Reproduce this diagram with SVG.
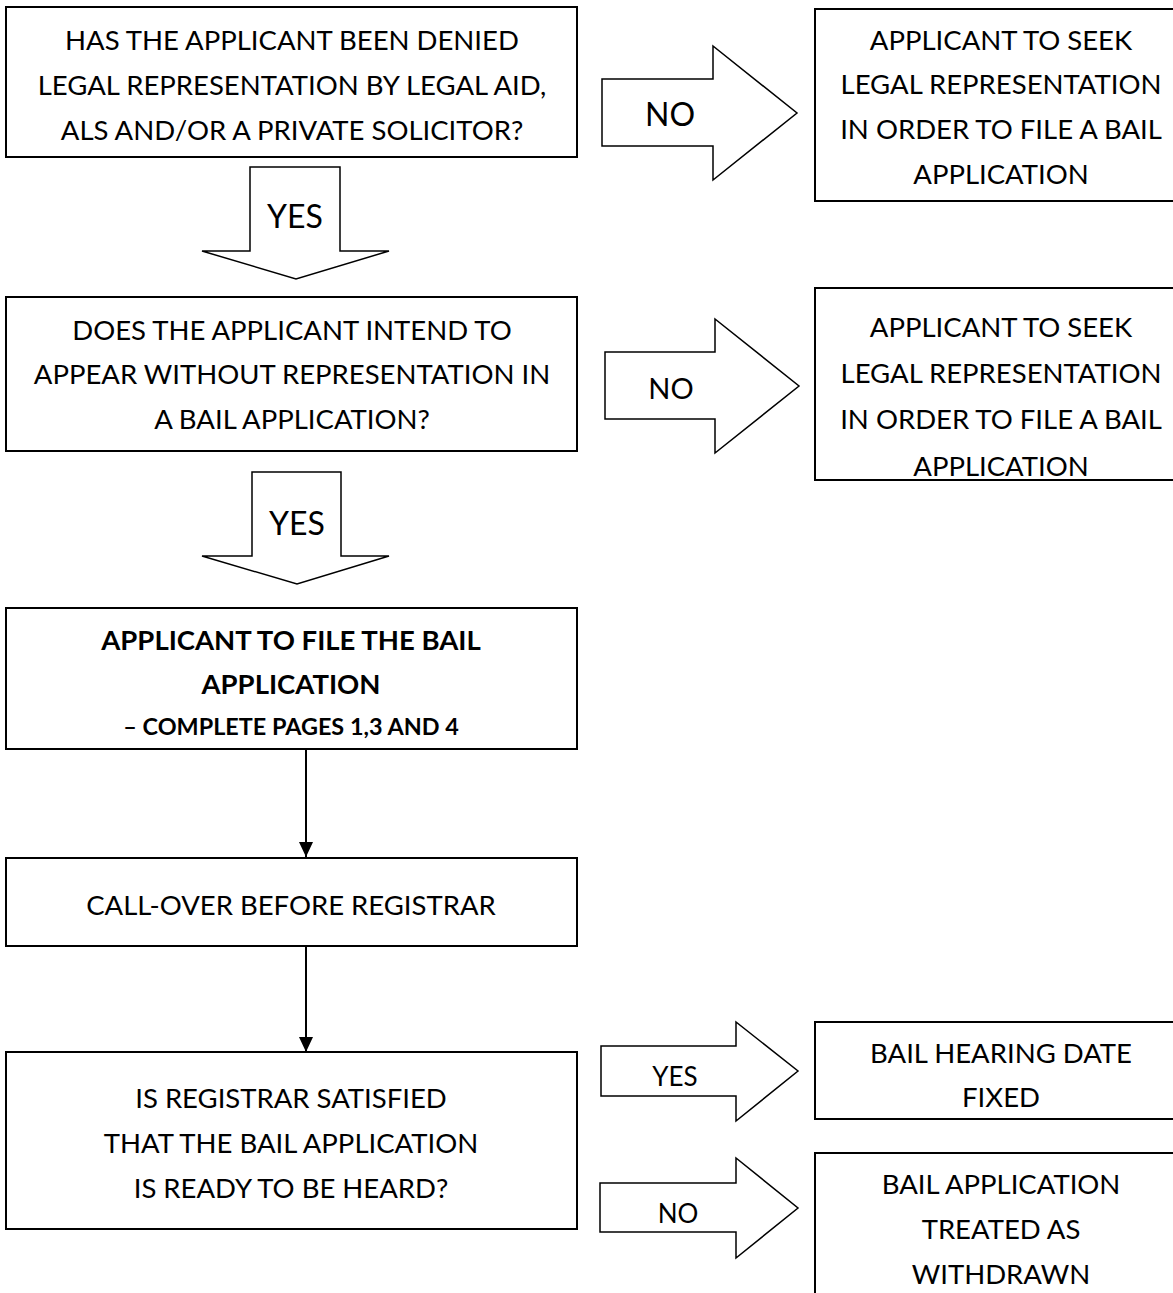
<svg xmlns="http://www.w3.org/2000/svg" width="1173" height="1293" viewBox="0 0 1173 1293">
<defs>
<style>
.box{fill:#fff;stroke:#000;stroke-width:2}
.arr{fill:#fff;stroke:#000;stroke-width:1.5;stroke-linejoin:miter}
.t{font-family:Lato,"Open Sans","Liberation Sans",sans-serif;font-size:27.5px;fill:#000;text-anchor:middle}
.b{font-weight:bold}
.s{font-size:23.4px}
.big{font-size:32px}
.mid{font-size:29px}
.sm{font-size:26px}
.con{stroke:#000;stroke-width:2;fill:none}
</style>
<marker id="ah" viewBox="0 0 14 15" refX="7" refY="15" markerWidth="14" markerHeight="15" markerUnits="userSpaceOnUse" orient="0">
<path d="M0,0 L14,0 L7,15 Z" fill="#000"/>
</marker>
</defs>
<rect width="1173" height="1293" fill="#fff"/>

<g id="q1">
<rect class="box" x="6" y="7" width="571" height="150"/>
<text class="t" x="292" y="50">HAS THE APPLICANT BEEN DENIED</text>
<text class="t" x="292" y="95">LEGAL REPRESENTATION BY LEGAL AID,</text>
<text class="t" x="292" y="140">ALS AND/OR A PRIVATE SOLICITOR?</text>
</g>

<g id="no1">
<polygon class="arr" points="602,79 713,79 713,46 797,113 713,180 713,146 602,146"/>
<text class="t big" x="670" y="126">NO</text>
</g>

<g id="r1">
<rect class="box" x="815" y="9" width="370" height="192"/>
<text class="t" x="1001" y="50">APPLICANT TO SEEK</text>
<text class="t" x="1001" y="94">LEGAL REPRESENTATION</text>
<text class="t" x="1001" y="139">IN ORDER TO FILE A BAIL</text>
<text class="t" x="1001" y="184">APPLICATION</text>
</g>

<g id="yes1">
<polygon class="arr" points="250,167 340,167 340,251 389,251 296,279 202,251 250,251"/>
<text class="t big" x="295" y="228">YES</text>
</g>

<g id="q2">
<rect class="box" x="6" y="297" width="571" height="154"/>
<text class="t" x="292" y="340">DOES THE APPLICANT INTEND TO</text>
<text class="t" x="292" y="384">APPEAR WITHOUT REPRESENTATION IN</text>
<text class="t" x="292" y="429">A BAIL APPLICATION?</text>
</g>

<g id="no2">
<polygon class="arr" points="605,352 715,352 715,319 799,386 715,453 715,419 605,419"/>
<text class="t mid" x="671" y="399">NO</text>
</g>

<g id="r2">
<rect class="box" x="815" y="288" width="370" height="192"/>
<text class="t" x="1001" y="337">APPLICANT TO SEEK</text>
<text class="t" x="1001" y="383">LEGAL REPRESENTATION</text>
<text class="t" x="1001" y="429">IN ORDER TO FILE A BAIL</text>
<text class="t" x="1001" y="476">APPLICATION</text>
</g>

<g id="yes2">
<polygon class="arr" points="252,472 341,472 341,556 389,556 297,584 202,556 252,556"/>
<text class="t big" x="297" y="535">YES</text>
</g>

<g id="file">
<rect class="box" x="6" y="608" width="571" height="141"/>
<text class="t b" x="291" y="650">APPLICANT TO FILE THE BAIL</text>
<text class="t b" x="291" y="694">APPLICATION</text>
<text class="t b s" x="291" y="735">– COMPLETE PAGES 1,3 AND 4</text>
</g>

<g id="callover">
<rect class="box" x="6" y="858" width="571" height="88"/>
<text class="t" x="291" y="915">CALL-OVER BEFORE REGISTRAR</text>
</g>

<g id="q3">
<rect class="box" x="6" y="1052" width="571" height="177"/>
<text class="t" x="291" y="1108">IS REGISTRAR SATISFIED</text>
<text class="t" x="291" y="1153">THAT THE BAIL APPLICATION</text>
<text class="t" x="291" y="1198">IS READY TO BE HEARD?</text>
</g>

<g id="yes3">
<polygon class="arr" points="601,1046 736,1046 736,1022 798,1071 736,1121 736,1096 601,1096"/>
<text class="t sm" x="675" y="1086">YES</text>
</g>

<g id="r3">
<rect class="box" x="815" y="1022" width="370" height="97"/>
<text class="t" x="1001" y="1063">BAIL HEARING DATE</text>
<text class="t" x="1001" y="1107">FIXED</text>
</g>

<g id="no3">
<polygon class="arr" points="600,1183 736,1183 736,1158 798,1208 736,1258 736,1232 600,1232"/>
<text class="t sm" x="678" y="1223">NO</text>
</g>

<g id="r4">
<rect class="box" x="815" y="1153" width="370" height="160"/>
<text class="t" x="1001" y="1194">BAIL APPLICATION</text>
<text class="t" x="1001" y="1239">TREATED AS</text>
<text class="t" x="1001" y="1284">WITHDRAWN</text>
</g>

<g id="connectors">
<line class="con" x1="306" y1="749" x2="306" y2="857" marker-end="url(#ah)"/>
<line class="con" x1="306" y1="946" x2="306" y2="1052" marker-end="url(#ah)"/>
</g>
</svg>
